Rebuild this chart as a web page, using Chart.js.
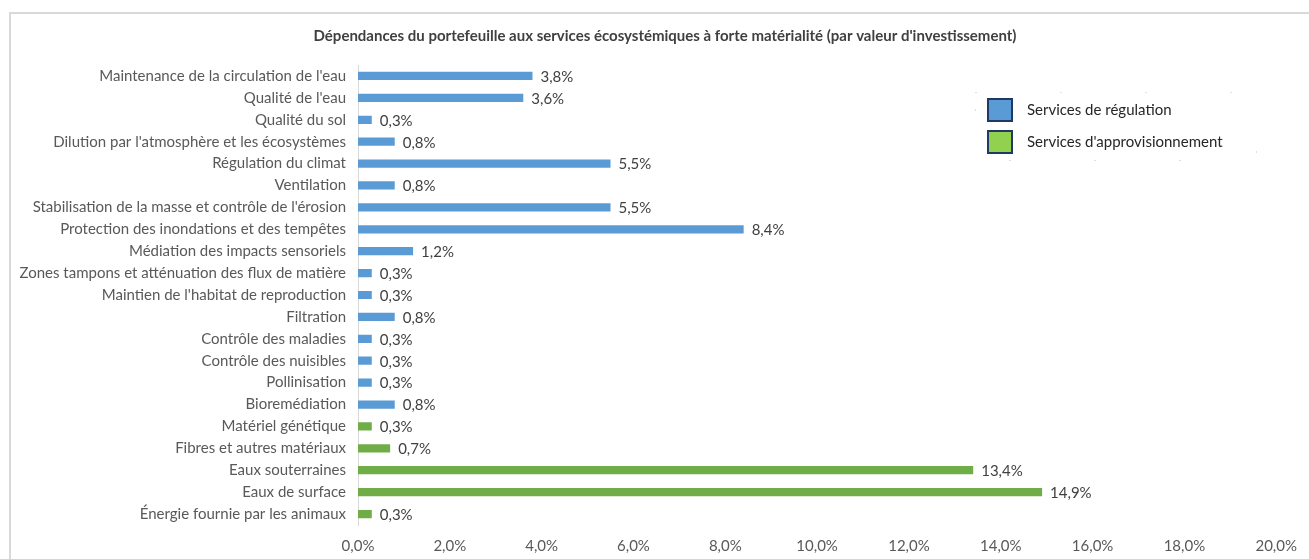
<!DOCTYPE html>
<html>
<head>
<meta charset="utf-8">
<title>Dépendances du portefeuille</title>
<script src="https://cdn.jsdelivr.net/npm/chart.js@4/dist/chart.umd.min.js"></script>
<style>
  body { margin: 0; background: #fff; }
  #wrap { width: 1309px; height: 559px; position: relative; }
</style>
</head>
<body>
<div id="wrap"><canvas id="depChart"></canvas></div>
<script>
var categories = [
    "Maintenance de la circulation de l'eau",
    "Qualité de l'eau",
    "Qualité du sol",
    "Dilution par l'atmosphère et les écosystèmes",
    "Régulation du climat",
    "Ventilation",
    "Stabilisation de la masse et contrôle de l'érosion",
    "Protection des inondations et des tempêtes",
    "Médiation des impacts sensoriels",
    "Zones tampons et atténuation des flux de matière",
    "Maintien de l'habitat de reproduction",
    "Filtration",
    "Contrôle des maladies",
    "Contrôle des nuisibles",
    "Pollinisation",
    "Bioremédiation",
    "Matériel génétique",
    "Fibres et autres matériaux",
    "Eaux souterraines",
    "Eaux de surface",
    "Énergie fournie par les animaux"
];
var regulation = [3.8, 3.6, 0.3, 0.8, 5.5, 0.8, 5.5, 8.4, 1.2, 0.3, 0.3, 0.8, 0.3, 0.3, 0.3, 0.8, null, null, null, null, null];
var approvisionnement = [null, null, null, null, null, null, null, null, null, null, null, null, null, null, null, null, 0.3, 0.7, 13.4, 14.9, 0.3];
var seriesNames = ["Services de régulation", "Services d'approvisionnement"];
var xTicks = [0, 2, 4, 6, 8, 10, 12, 14, 16, 18, 20];
var chartTitle = "Dépendances du portefeuille aux services écosystémiques à forte matérialité (par valeur d'investissement)";

var blue = '#5B9BD5';
var green = '#70AD47';
var legendGreen = '#92D050';
var textColor = '#595959';
var fontFamily = 'Lato, "Liberation Sans", sans-serif';

function pct(v) {
    return v.toFixed(1).replace('.', ',') + '%';
}

// light frame around the whole chart + title centred on the frame
var framePlugin = {
    id: 'frame',
    beforeDraw: function(chart) {
        var ctx = chart.ctx;
        ctx.save();
        ctx.fillStyle = '#fff';
        ctx.fillRect(0, 0, chart.width, chart.height);
        ctx.strokeStyle = '#d9d9d9';
        ctx.lineWidth = 2;
        ctx.strokeRect(10, 13, chart.width + 20, chart.height + 20);
        ctx.font = 'bold 15px ' + fontFamily;
        ctx.fillStyle = '#404040';
        ctx.textAlign = 'center';
        ctx.textBaseline = 'middle';
        ctx.fillText(chartTitle, 665, 36);
        ctx.restore();
    }
};

// value at the end of every bar
var valueLabels = {
    id: 'valueLabels',
    afterDatasetsDraw: function(chart) {
        var ctx = chart.ctx;
        ctx.save();
        ctx.font = '15px ' + fontFamily;
        ctx.fillStyle = '#404040';
        ctx.textAlign = 'left';
        ctx.textBaseline = 'middle';
        chart.data.datasets.forEach(function(ds, i) {
            var meta = chart.getDatasetMeta(i);
            meta.data.forEach(function(bar, j) {
                var v = ds.data[j];
                if (v === null || v === undefined) return;
                ctx.fillText(pct(v), bar.x + 8, bar.y + 1);
            });
        });
        ctx.restore();
    }
};

// legend box on the right
var boxLegend = {
    id: 'boxLegend',
    afterDraw: function(chart) {
        var ctx = chart.ctx;
        var colors = [blue, legendGreen];
        ctx.save();
        ctx.strokeStyle = '#bfbfbf';
        ctx.lineWidth = 1;
        ctx.setLineDash([1, 84]);
        ctx.strokeRect(975.5, 92.5, 281, 68);
        ctx.setLineDash([]);
        ctx.font = '15px ' + fontFamily;
        ctx.textBaseline = 'middle';
        ctx.textAlign = 'left';
        for (var i = 0; i < seriesNames.length; i++) {
            var y = 99 + i * 32;
            ctx.fillStyle = colors[i];
            ctx.fillRect(988, y, 24, 22);
            ctx.strokeStyle = '#203864';
            ctx.lineWidth = 2;
            ctx.strokeRect(988, y, 24, 22);
            ctx.fillStyle = '#262626';
            ctx.fillText(seriesNames[i], 1027, y + 11);
        }
        ctx.restore();
    }
};

var ctx = document.getElementById('depChart').getContext('2d');
var depChart = new Chart(ctx, {
    type: 'bar',
    data: {
        labels: categories,
        datasets: [{
            label: seriesNames[0],
            data: regulation,
            backgroundColor: blue,
            barPercentage: 0.47,
            categoryPercentage: 0.8
        }, {
            label: seriesNames[1],
            data: approvisionnement,
            backgroundColor: green,
            barPercentage: 0.47,
            categoryPercentage: 0.8
        }]
    },
    options: {
        indexAxis: 'y',
        responsive: true,
        maintainAspectRatio: false,
        animation: false,
        grouped: false,
        layout: {
            padding: { left: 20, right: 29, top: 65, bottom: 4 }
        },
        plugins: {
            legend: { display: false },
            tooltip: { enabled: false },
            title: { display: false }
        },
        scales: {
            x: {
                min: 0,
                max: 20,
                afterBuildTicks: function(scale) {
                    scale.ticks = xTicks.map(function(v) { return { value: v }; });
                },
                afterFit: function(scale) { scale.height = 30; },
                grid: { display: false, drawTicks: false },
                border: { display: false },
                ticks: {
                    color: textColor,
                    font: { family: fontFamily, size: 15 },
                    padding: 12,
                    callback: function(v) { return pct(v); }
                }
            },
            y: {
                afterFit: function(scale) { scale.width = 338; },
                grid: { display: false, drawTicks: false },
                border: { display: true, color: '#d9d9d9', width: 1 },
                ticks: {
                    color: textColor,
                    font: { family: fontFamily, size: 15 },
                    padding: 12,
                    autoSkip: false
                }
            }
        }
    },
    plugins: [framePlugin, valueLabels, boxLegend]
});
</script>
</body>
</html>
